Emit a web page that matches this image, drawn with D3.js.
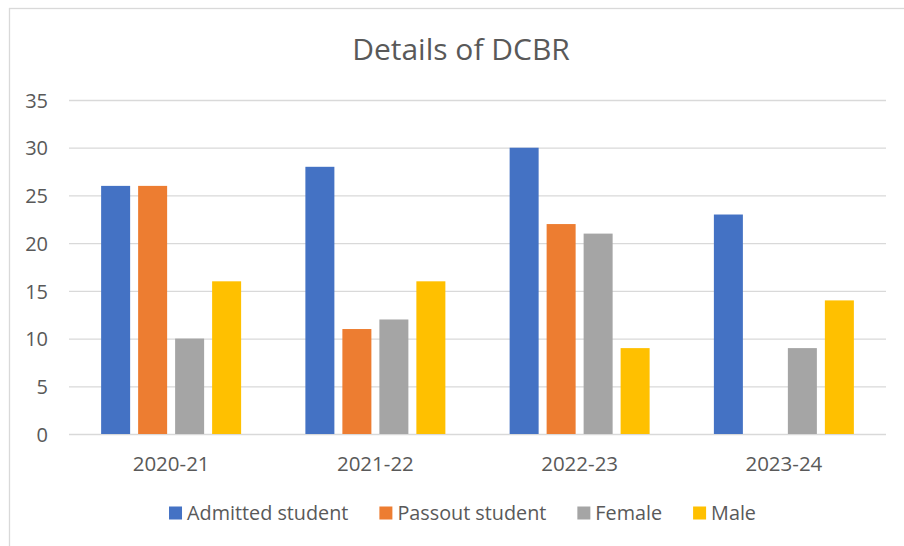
<!DOCTYPE html>
<html>
<head>
<meta charset="utf-8">
<script src="https://cdn.jsdelivr.net/npm/d3@7"></script>
<style>
    body { margin: 0; background: #fff; }
    text { font-family: "Open Sans", sans-serif; fill: #595959; }
</style>
</head>
<body>
<div class="wrapper"></div>
<script>
    var years = ["2020-21", "2021-22", "2022-23", "2023-24"];
    var seriesNames = ["Admitted student", "Passout student", "Female", "Male"];
    var admitted = [26, 28, 30, 23];
    var passout = [26, 11, 22, null];
    var female = [10, 12, 21, 9];
    var male = [16, 16, 9, 14];
    var yTicks = [0, 5, 10, 15, 20, 25, 30, 35];
    var colors = ["#4472C4", "#ED7D31", "#A5A5A5", "#FFC000"];

    var allSeries = [admitted, passout, female, male];

    var width = 904,
        height = 546;
    var plot = {left: 69, right: 886, top: 100, bottom: 434};

    var svg = d3.select(".wrapper").append("svg")
        .attr("width", width)
        .attr("height", height);

    // chart area border (runs off the right and bottom of the picture)
    svg.append("rect")
        .attr("x", 9.5).attr("y", 8.5)
        .attr("width", 1000).attr("height", 1000)
        .attr("fill", "#fff")
        .attr("stroke", "#d9d9d9")
        .attr("stroke-width", 1.3);

    var x0 = d3.scaleBand()
        .domain(years)
        .range([plot.left, plot.right])
        .paddingInner(0.3146)
        .paddingOuter(0.1573);

    var x1 = d3.scaleBand()
        .domain(seriesNames)
        .range([0, x0.bandwidth()])
        .paddingInner(0.216)
        .paddingOuter(0);

    var y = d3.scaleLinear()
        .domain([0, 35])
        .range([plot.bottom, plot.top]);

    // gridlines + y labels
    var yAxis = svg.append("g")
        .attr("transform", "translate(" + plot.left + ",0)")
        .call(d3.axisLeft(y).tickValues(yTicks).tickSize(-(plot.right - plot.left)).tickPadding(21));
    yAxis.select(".domain").remove();
    yAxis.selectAll("line").attr("stroke", "#d9d9d9").attr("stroke-width", 1.3);
    yAxis.selectAll("text")
        .attr("font-size", "20px")
        .attr("dy", "0.36em")
        .style("font-family", null);

    // bars
    var groups = svg.selectAll("g.year")
        .data(years)
        .enter().append("g")
        .attr("class", "year")
        .attr("transform", function(d) { return "translate(" + x0(d) + ",0)"; });

    groups.selectAll("rect")
        .data(function(d, i) {
            return seriesNames.map(function(s, j) { return {name: s, value: allSeries[j][i], color: colors[j]}; });
        })
        .enter().filter(function(d) { return d.value != null; })
        .append("rect")
        .attr("x", function(d) { return x1(d.name); })
        .attr("width", x1.bandwidth())
        .attr("y", function(d) { return y(d.value); })
        .attr("height", function(d) { return y(0) - y(d.value); })
        .attr("fill", function(d) { return d.color; });

    // x labels
    var xAxis = svg.append("g")
        .attr("transform", "translate(0," + plot.bottom + ")")
        .call(d3.axisBottom(x0).tickSize(0).tickPadding(0));
    xAxis.select(".domain").remove();
    xAxis.selectAll("text")
        .attr("font-size", "20.5px")
        .attr("y", 36.7)
        .attr("dy", 0)
        .style("font-family", null);

    // title
    svg.append("text")
        .attr("x", 461)
        .attr("y", 60.3)
        .attr("text-anchor", "middle")
        .attr("font-size", "30px")
        .text("Details of DCBR");

    // legend, centred under the chart
    var legend = svg.append("g").attr("class", "legend");
    var items = legend.selectAll("g")
        .data(seriesNames)
        .enter().append("g");
    items.append("rect")
        .attr("width", 13).attr("height", 13)
        .attr("y", 506.5)
        .attr("fill", function(d, i) { return colors[i]; });
    items.append("text")
        .attr("x", 18)
        .attr("y", 519.5)
        .attr("font-size", "19.8px")
        .text(function(d) { return d; });

    var pos = 0;
    items.each(function() {
        var w = d3.select(this).select("text").node().getComputedTextLength();
        d3.select(this).attr("data-x", pos);
        pos += 18 + w + 31;
    });
    var total = pos - 31,
        start = 462.5 - total / 2;
    items.attr("transform", function() { return "translate(" + (start + +this.getAttribute("data-x")) + ",0)"; });
</script>
</body>
</html>
